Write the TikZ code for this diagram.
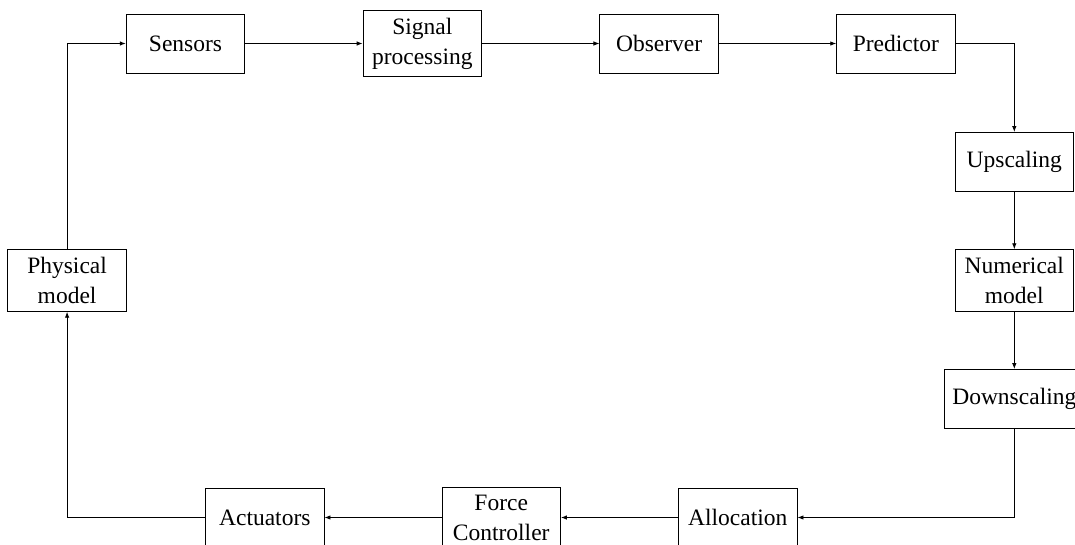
\documentclass[tikz,border=0pt]{standalone}
\usepackage{fontspec}
\setmainfont{Liberation Serif}
\usetikzlibrary{arrows.meta}
\begin{document}
\begin{tikzpicture}[x=1pt,y=-1pt,
  blk/.style={draw, line width=0.9pt, minimum width=118.4pt, minimum height=59pt,
    inner xsep=8pt, inner ysep=7.5pt, align=center,
    font=\fontsize{23.5}{30}\selectfont},
  conn/.style={line width=0.9pt, -{Latex[length=6pt,width=4.5pt]}}]
\useasboundingbox (0,0) rectangle (1075,544);
\node[blk] (sens)  at (185.5,43.5) {Sensors};
\node[blk] (sig)   at (422.3,43.5) {Signal\\processing};
\node[blk] (obs)   at (659.1,43.5) {Observer};
\node[blk] (pred)  at (895.9,43.5) {Predictor};
\node[blk] (up)    at (1014.3,162) {Upscaling};
\node[blk] (num)   at (1014.3,280.5) {Numerical\\model};
\node[blk] (down)  at (1014.3,399) {Downscaling};
\node[blk] (alloc) at (737.8,517.5) {Allocation};
\node[blk] (force) at (501.2,517.5) {Force\\Controller};
\node[blk] (act)   at (264.8,517.5) {Actuators};
\node[blk] (phys)  at (67.1,280.5) {Physical\\model};
\draw[conn] (sens) -- (sig);
\draw[conn] (sig) -- (obs);
\draw[conn] (obs) -- (pred);
\draw[conn] (pred.east) -| (up.north);
\draw[conn] (up) -- (num);
\draw[conn] (num) -- (down);
\draw[conn] (down.south) |- (alloc.east);
\draw[conn] (alloc) -- (force);
\draw[conn] (force) -- (act);
\draw[conn] (act.west) -| (phys.south);
\draw[conn] (phys.north) |- (sens.west);
\end{tikzpicture}
\end{document}
